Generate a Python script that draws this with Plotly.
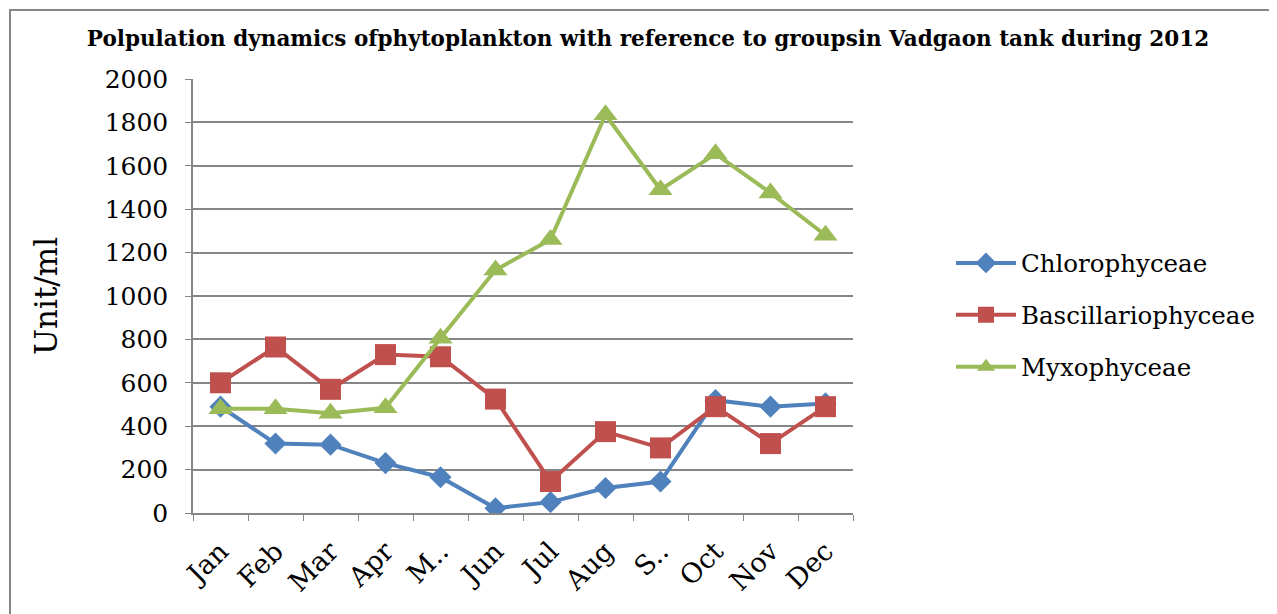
import plotly.graph_objects as go

months = ["Jan", "Feb", "Mar", "Apr", "M..", "Jun", "Jul", "Aug", "S..", "Oct", "Nov", "Dec"]
chlorophyceae = [490, 320, 315, 230, 165, 22, 50, 115, 145, 520, 490, 505]
bascillariophyceae = [600, 765, 570, 730, 720, 525, 145, 375, 300, 490, 320, 490]
myxophyceae = [480, 480, 460, 485, 805, 1120, 1260, 1835, 1490, 1655, 1475, 1280]

OFF = 8  # default page body margin
W, H = 1277 - OFF, 614 - OFF
L, R, T, B = 193, 853, 79, 513  # plot area in screenshot pixels
pw, ph = R - L, B - T

def px(x):
    return (x - L) / pw

def py(y):
    return (B - y) / ph

fig = go.Figure()
fig.add_trace(go.Scatter(x=months, y=chlorophyceae, name="Chlorophyceae", mode="lines+markers",
                         legendgroup="a",
                         line=dict(color="#4F81BD", width=4),
                         marker=dict(symbol="diamond", size=17, color="#4F81BD")))
fig.add_trace(go.Scatter(x=months, y=bascillariophyceae, name="Bascillariophyceae", mode="lines+markers",
                         legendgroup="b",
                         line=dict(color="#C0504D", width=4),
                         marker=dict(symbol="square", size=21, color="#C0504D")))
fig.add_trace(go.Scatter(x=months, y=myxophyceae, name="Myxophyceae", mode="lines+markers",
                         legendgroup="c",
                         line=dict(color="#9BBB59", width=4),
                         marker=dict(symbol="triangle-up", size=21, color="#9BBB59")))

serif = "DejaVu Serif, serif"
border = dict(color="#868686", width=2)
fig.update_layout(
    width=W, height=H,
    margin=dict(l=L - OFF, r=W - (R - OFF), t=T - OFF, b=H - (B - OFF)),
    paper_bgcolor="white", plot_bgcolor="white",
    font=dict(family=serif, color="black"),
    title=dict(text="<b>Polpulation dynamics ofphytoplankton with reference to groupsin Vadgaon tank during 2012</b>",
               x=(648 - OFF) / W, xanchor="center", y=1 - (38 - OFF) / H, yanchor="middle",
               font=dict(family=serif, size=21.5, color="black")),
    showlegend=True,
    legend=dict(x=px(951), y=py(315), xanchor="left", yanchor="middle",
                font=dict(family=serif, size=24.5, color="black"),
                itemwidth=60, tracegroupgap=17, bgcolor="rgba(0,0,0,0)"),
    xaxis=dict(type="category", range=[-0.5, len(months) - 0.5], showgrid=False, showline=True,
               linecolor="#868686", linewidth=1.5,
               ticks="outside", ticklen=6, tickcolor="#868686", tickson="boundaries",
               tickangle=-45, ticklabelstandoff=10,
               tickfont=dict(family=serif, size=27, color="black")),
    yaxis=dict(range=[0, 2000], dtick=200, showgrid=True, gridcolor="#868686", gridwidth=1.5,
               showline=True, linecolor="#868686", linewidth=1.5, ticks="outside", ticklen=6,
               tickcolor="#868686", zeroline=False, ticklabelstandoff=12,
               tickfont=dict(family=serif, size=25, color="black"),
               title=dict(text="Unit/ml", font=dict(family=serif, size=31, color="black"), standoff=38)),
    shapes=[
        dict(type="line", xref="paper", yref="paper", x0=px(9), x1=px(1277), y0=py(10), y1=py(10), line=border),
        dict(type="line", xref="paper", yref="paper", x0=px(10), x1=px(10), y0=py(10), y1=py(614), line=border),
    ],
)

fig.write_html("out.html")
